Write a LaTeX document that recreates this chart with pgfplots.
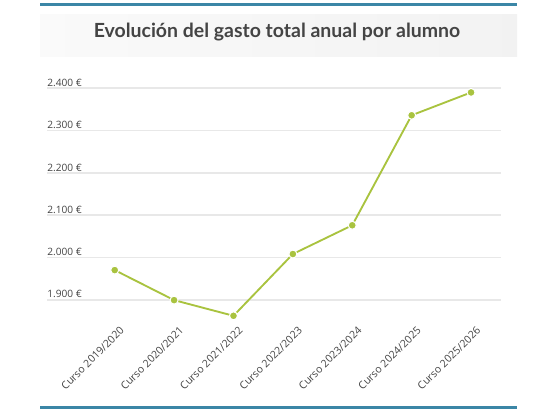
\documentclass[border=0pt]{standalone}
\usepackage{pgfplots}
\pgfplotsset{compat=1.18}
\usepackage{fontspec}
\setmainfont{Open Sans}
\newfontfamily\titlefont{Lato}
\definecolor{lineg}{HTML}{A9C33F}
\definecolor{barblue}{HTML}{3B86A6}
\definecolor{txt}{HTML}{444444}
\definecolor{gridc}{HTML}{E8E8E8}
\begin{document}
\begin{tikzpicture}[x=0.75pt,y=0.75pt]
\path[use as bounding box] (0,0) rectangle (558,415);
% top blue bar
\fill[barblue] (40,415-3) rectangle (517,415-6);
% title box
\shade[left color=black!2, right color=black!5] (40,415-15) rectangle (517,415-57);
\node[text=txt, font=\titlefont\bfseries\fontsize{14.6}{18}\selectfont, anchor=base] at (277,415-37.5) {Evolución del gasto total anual por alumno};
% bottom blue bar
\fill[barblue] (40,415-406) rectangle (517,415-409);
\begin{axis}[
  at={(35.25pt,70.6pt)}, anchor=south west,
  width=340.3pt, height=174.5pt, scale only axis,
  xmin=-1.14, xmax=6.5, ymin=1850, ymax=2400,
  axis line style={draw=none},
  tick style={draw=none},
  ytick={1900,2000,2100,2200,2300,2400},
  yticklabels={1.900 €,2.000 €,2.100 €,2.200 €,2.300 €,2.400 €},
  yticklabel style={anchor=south west, inner sep=1pt, xshift=-1pt, font=\fontsize{7.6}{8}\selectfont, text=txt},
  xtick={0,...,6},
  xticklabels={Curso 2019/2020,Curso 2020/2021,Curso 2021/2022,Curso 2022/2023,Curso 2023/2024,Curso 2024/2025,Curso 2025/2026},
  xticklabel style={rotate=45, anchor=east, inner sep=1pt, yshift=-8pt, xshift=1pt, font=\fontsize{7.9}{8}\selectfont, text=txt},
  ymajorgrids, major grid style={gridc, line width=1.2pt},
  clip=false,
]
\addplot[lineg, line width=1.4pt, mark=*, mark size=3pt, mark options={fill=lineg, draw=white, line width=0.8pt}]
coordinates {(0,1970) (1,1899) (2,1862) (3,2008) (4,2076) (5,2336) (6,2390)};
\end{axis}
\end{tikzpicture}
\end{document}
